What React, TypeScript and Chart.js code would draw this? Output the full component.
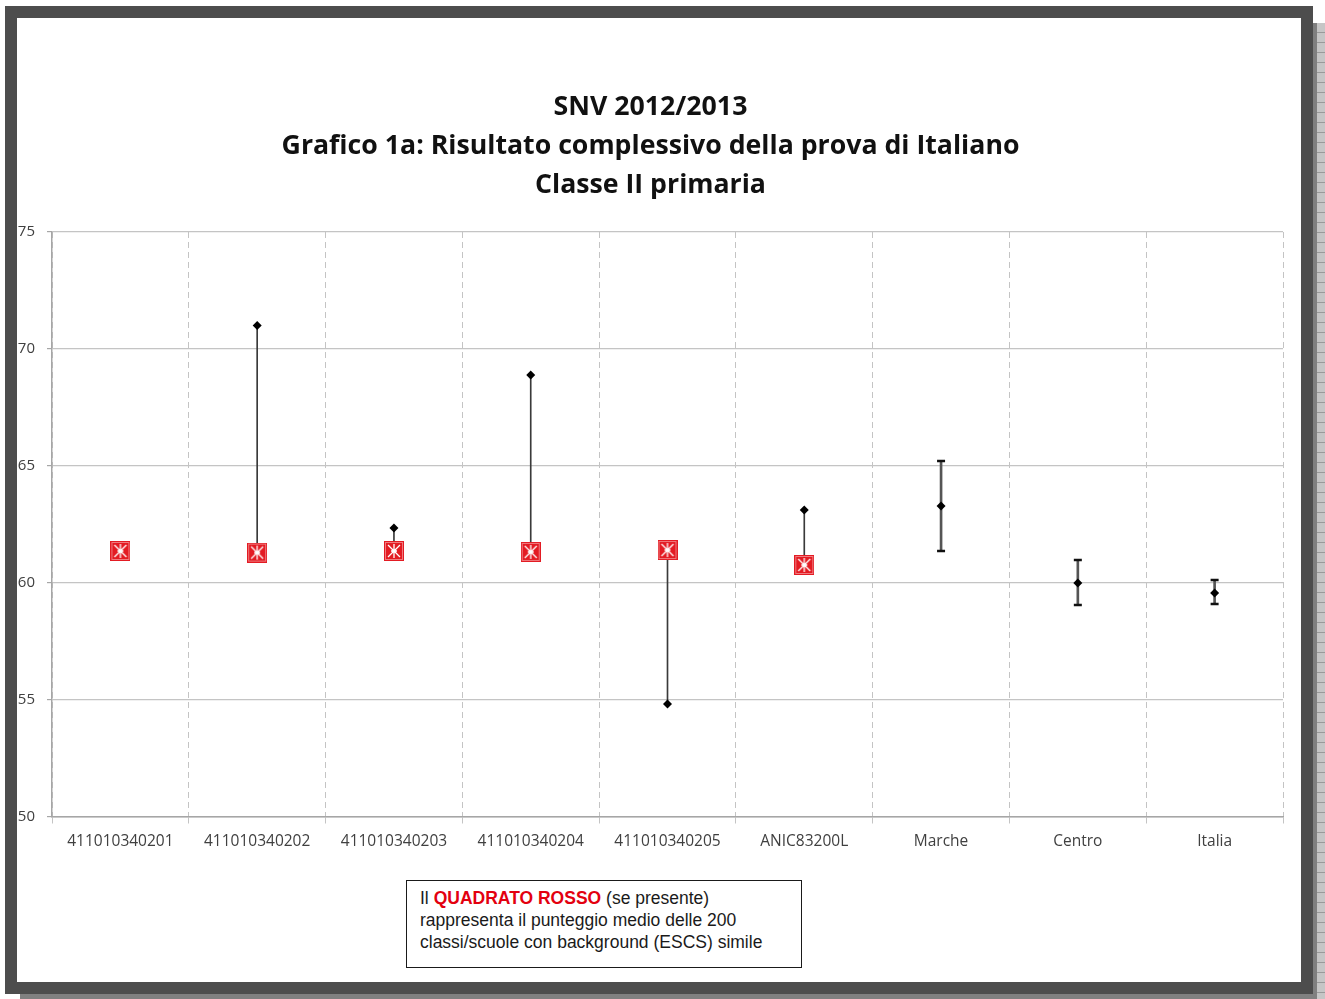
import React, { useEffect, useRef } from "react";
import { Chart, registerables } from "chart.js";

Chart.register(...registerables);

const categories = [
  "411010340201",
  "411010340202",
  "411010340203",
  "411010340204",
  "411010340205",
  "ANIC83200L",
  "Marche",
  "Centro",
  "Italia",
];

// punteggio medio (rombo nero)
const scores: (number | null)[] = [null, 71.0, 62.35, 68.89, 54.83, 63.12, 63.29, 60.0, 59.57];
// punteggio medio delle 200 classi/scuole con background simile (quadrato rosso)
const escsSimilar: (number | null)[] = [61.37, 61.3, 61.37, 61.33, 61.41, 60.77, null, null, null];
// intervallo di confidenza (solo Marche, Centro, Italia)
const ciLow: (number | null)[] = [null, null, null, null, null, null, 61.37, 59.06, 59.1];
const ciHigh: (number | null)[] = [null, null, null, null, null, null, 65.21, 60.98, 60.13];

const yTicks = [50, 55, 60, 65, 70, 75];

const titleLines = [
  "SNV 2012/2013",
  "Grafico 1a: Risultato complessivo della prova di Italiano",
  "Classe II primaria",
];

function makeRedSquare(): HTMLCanvasElement {
  const c = document.createElement("canvas");
  const s = 20;
  c.width = s;
  c.height = s;
  const g = c.getContext("2d")!;
  g.fillStyle = "#e31b23";
  g.fillRect(0, 0, s, s);
  g.strokeStyle = "#f07a7e";
  g.lineWidth = 1;
  g.strokeRect(1.5, 1.5, s - 3, s - 3);
  g.strokeStyle = "#ffffff";
  g.lineWidth = 1.3;
  g.beginPath();
  g.moveTo(4, 4);
  g.lineTo(s - 4, s - 4);
  g.moveTo(s - 4, 4);
  g.lineTo(4, s - 4);
  g.moveTo(s / 2, 3);
  g.lineTo(s / 2, s - 3);
  g.moveTo(s / 2 - 3, s / 2);
  g.lineTo(s / 2 + 3, s / 2);
  g.stroke();
  return c;
}

export default function App() {
  const ref = useRef<HTMLCanvasElement | null>(null);

  useEffect(() => {
    if (!ref.current) return;
    const square = makeRedSquare();
    const schoolRanges = scores.map((v, i) => {
      const e = escsSimilar[i];
      if (v == null || e == null) return null;
      return [Math.min(v, e), Math.max(v, e)];
    });
    const ciRanges = ciLow.map((lo, i) => {
      const hi = ciHigh[i];
      if (lo == null || hi == null) return null;
      return [lo, hi];
    });
    const lastIdx = categories.length;

    const chart = new Chart(ref.current, {
      type: "bar",
      data: {
        labels: categories,
        datasets: [
          {
            type: "bar",
            data: schoolRanges as any,
            backgroundColor: "#3a3a3a",
            borderWidth: 0,
            barThickness: 1,
            grouped: false,
            order: 10,
          } as any,
          {
            type: "bar",
            data: ciRanges as any,
            backgroundColor: "#555555",
            borderWidth: 0,
            barThickness: 2,
            grouped: false,
            order: 10,
          } as any,
          {
            type: "line",
            data: ciLow,
            showLine: false,
            pointStyle: "line",
            pointRadius: 4,
            borderColor: "#111",
            borderWidth: 2.5,
            order: 5,
          } as any,
          {
            type: "line",
            data: ciHigh,
            showLine: false,
            pointStyle: "line",
            pointRadius: 4,
            borderColor: "#111",
            borderWidth: 2.5,
            order: 5,
          } as any,
          {
            type: "line",
            data: scores,
            showLine: false,
            pointStyle: "rectRot",
            pointRadius: 4.5,
            backgroundColor: "#000",
            borderColor: "#000",
            borderWidth: 0,
            order: 2,
          } as any,
          {
            type: "line",
            data: escsSimilar,
            showLine: false,
            pointStyle: square,
            pointRadius: 10,
            order: 1,
          } as any,
        ],
      },
      options: {
        animation: false,
        responsive: false,
        maintainAspectRatio: false,
        layout: { padding: { left: 1, right: 18, top: 0, bottom: 125 } },
        plugins: {
          legend: { display: false },
          tooltip: { enabled: false },
          title: {
            display: true,
            text: titleLines,
            color: "#111",
            font: { family: "'Open Sans'", size: 26.7, weight: "bold", lineHeight: "39px" },
            padding: { top: 70, bottom: 27 },
          },
        },
        scales: {
          x: {
            type: "category",
            offset: true,
            grid: {
              offset: true,
              color: "#c4c4c4",
              lineWidth: 1,
              tickLength: 7,
              tickColor: "#c4c4c4",
              tickBorderDash: (ctx: any) => (ctx.index === lastIdx ? [] : [6, 4]),
            } as any,
            border: {
              display: true,
              color: "#a6a6a6",
              width: 1.5,
              dash: (ctx: any) => (ctx.index === lastIdx ? [] : [6, 4]),
            } as any,
            ticks: {
              color: "#404040",
              font: { family: "'Open Sans'", size: 15.5 },
              padding: 8,
              maxRotation: 0,
              autoSkip: false,
            },
            afterFit: (scale: any) => {
              scale.height = 40;
            },
          },
          y: {
            min: 50,
            max: 75,
            afterBuildTicks: (scale: any) => {
              scale.ticks = yTicks.map((v) => ({ value: v }));
            },
            grid: {
              color: "#c4c4c4",
              lineWidth: 1.2,
              tickLength: 5,
              tickColor: "#a6a6a6",
            },
            border: { display: true, color: "#a6a6a6", width: 1.5 },
            ticks: {
              color: "#404040",
              font: { family: "'Open Sans'", size: 15 },
              padding: 12,
            },
            afterFit: (scale: any) => {
              scale.width = 34;
            },
          },
        },
      },
    });
    return () => chart.destroy();
  }, []);

  return (
    <div
      style={{
        position: "fixed",
        left: 0,
        top: 0,
        width: 1325,
        height: 999,
        background: "#ffffff",
        overflow: "hidden",
      }}
    >
      {/* shadow right */}
      <div
        style={{
          position: "absolute",
          left: 1313,
          top: 23,
          width: 4,
          height: 976,
          background: "#808080",
        }}
      />
      <div
        style={{
          position: "absolute",
          left: 1317,
          top: 23,
          width: 8,
          height: 976,
          background:
            "repeating-linear-gradient(180deg, #c6c6c6 0px, #c6c6c6 9px, #9a9a9a 9px, #9a9a9a 10px)",
        }}
      />
      {/* shadow bottom */}
      <div
        style={{
          position: "absolute",
          left: 20,
          top: 994,
          width: 1297,
          height: 5,
          background: "#808080",
        }}
      />
      {/* frame */}
      <div
        style={{
          position: "absolute",
          left: 5,
          top: 6,
          width: 1308,
          height: 988,
          border: "12px solid #4d4d4d",
          boxSizing: "border-box",
          background: "#ffffff",
        }}
      />
      <canvas
        ref={ref}
        width={1284}
        height={964}
        style={{ position: "absolute", left: 17, top: 18, width: 1284, height: 964 }}
      />
      <div
        style={{
          position: "absolute",
          left: 406,
          top: 880,
          width: 396,
          height: 88,
          border: "1.5px solid #1a1a1a",
          boxSizing: "border-box",
          padding: "6px 0 0 13px",
          fontFamily: "'Liberation Sans', Arial, sans-serif",
          fontSize: 17.5,
          lineHeight: "22px",
          color: "#1a1a1a",
          background: "#fff",
          whiteSpace: "nowrap",
        }}
      >
        <div>
          Il <span style={{ color: "#e3000f", fontWeight: "bold" }}>QUADRATO ROSSO</span> (se presente)
        </div>
        <div>rappresenta il punteggio medio delle 200</div>
        <div>classi/scuole con background (ESCS) simile</div>
      </div>
    </div>
  );
}
